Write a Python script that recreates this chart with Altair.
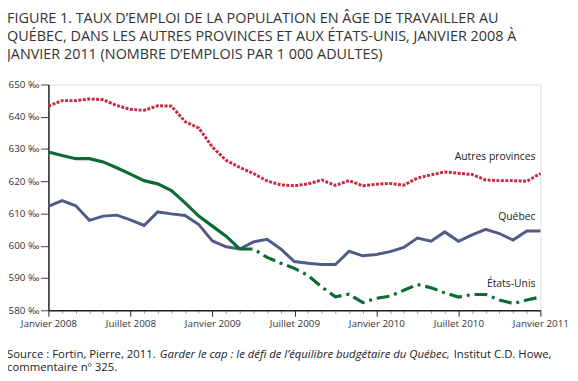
import altair as alt
import pandas as pd

months = list(range(37))
autres = [643.3, 645, 645, 645.5, 645.3, 643.5, 642.3, 642, 643.4, 643.3, 638.5, 636.5,
          630.6, 626.5, 624.3, 622.4, 620.1, 618.9, 618.6, 619.2, 620.4, 618.7, 620.2, 618.6,
          619.1, 619.3, 618.8, 621, 622, 622.9, 622.5, 622.1, 620.4, 620.2, 620.2, 620, 622.4]
quebec = [612.2, 614, 612.4, 607.9, 609.2, 609.5, 608, 606.3, 610.5, 609.9, 609.4, 606.6,
          601.5, 599.7, 599, 601.2, 602, 599, 595.1, 594.6, 594.2, 594.2, 598.3, 596.9,
          597.3, 598.2, 599.5, 602.4, 601.4, 604.3, 601.4, 603.4, 605.1, 603.8, 601.8, 604.6, 604.6]
etats_unis = [629.1, 628, 627, 627, 626, 624.2, 622.2, 620.2, 619.2, 617.1, 613.3, 609.2,
              606.1, 603, 599, 599, 596.4, 594.6, 593, 590.8, 587.2, 584.2, 585, 582.4,
              583.7, 584.4, 586.2, 588, 587, 585.4, 584.1, 584.9, 584.9, 583.2, 582.1, 583.2, 584.1]
us_solid_end = 14

tick_labels = ["Janvier 2008", "Juillet 2008", "Janvier 2009", "Juillet 2009",
               "Janvier 2010", "Juillet 2010", "Janvier 2011"]
y_ticks = [580, 590, 600, 610, 620, 630, 640, 650]

series_labels = ["Autres provinces", "Québec", "États-Unis"]
label_values = [627.5, 608.8, 588.0]

title_lines = ["FIGURE 1. TAUX D\u2019EMPLOI DE LA POPULATION EN ÂGE DE TRAVAILLER AU",
               "QUÉBEC, DANS LES AUTRES PROVINCES ET AUX ÉTATS-UNIS, JANVIER 2008 À",
               "JANVIER 2011 (NOMBRE D\u2019EMPLOIS PAR 1 000 ADULTES)"]

FONT = "Open Sans"
RED = "#c42b40"
BLUE = "#505c88"
GREEN = "#0b6b32"

df_a = pd.DataFrame({"m": months, "v": autres})
df_q = pd.DataFrame({"m": months, "v": quebec})
df_us1 = pd.DataFrame({"m": months[:us_solid_end + 1], "v": etats_unis[:us_solid_end + 1]})
df_us2 = pd.DataFrame({"m": months[us_solid_end:], "v": etats_unis[us_solid_end:]})
df_lab = pd.DataFrame({"m": [36] * 3, "v": label_values, "t": series_labels})

label_js = "[" + ",".join("'" + s + "'" for s in tick_labels) + "]"

x_enc = alt.X("m:Q", scale=alt.Scale(domain=[0, 36], nice=False, zero=False),
              axis=alt.Axis(values=months, title=None, grid=False,
                            labelExpr=f"datum.value % 6 === 0 ? {label_js}[datum.value/6] : ''",
                            tickSize={"condition": {"test": "datum.value % 6 === 0", "value": 6}, "value": 3},
                            tickColor={"condition": {"test": "datum.value % 6 === 0", "value": "#222"}, "value": "#999"},
                            labelFontSize=10, labelFont=FONT, labelColor="#333",
                            labelPadding=2, labelOverlap=False, labelFlush=False,
                            domainColor="#222", domainWidth=1.5))
y_enc = alt.Y("v:Q", scale=alt.Scale(domain=[580, 650], nice=False, zero=False),
              axis=alt.Axis(values=y_ticks, title=None, grid=False,
                            labelExpr="datum.value + ' \u2030'",
                            tickSize=8, tickColor="#444", labelFontSize=10, labelFont=FONT,
                            labelColor="#333", labelPadding=1.5,
                            domainColor="#222", domainWidth=1.5))

base = lambda d: alt.Chart(d).encode(x=x_enc, y=y_enc)

l_a = base(df_a).mark_line(color=RED, strokeWidth=3, strokeDash=[3, 1.5])
l_q = base(df_q).mark_line(color=BLUE, strokeWidth=3)
l_u1 = base(df_us1).mark_line(color=GREEN, strokeWidth=3.2)
l_u2 = base(df_us2).mark_line(color=GREEN, strokeWidth=3.2, strokeDash=[13, 5, 3, 5])
labs = base(df_lab).mark_text(align="right", baseline="middle", dx=-5, font=FONT,
                              fontSize=10.5, color="#222").encode(text="t:N")

layers = [l_a, l_q, l_u1, l_u2, labs]

for i, line in enumerate(title_lines):
    layers.append(alt.Chart(df_lab.head(1)).mark_text(
        align="left", baseline="alphabetic", font=FONT, fontSize=14.6, color="#333"
    ).encode(x=alt.value(-42), y=alt.value(-62.5 + i * 18.4), text=alt.value(line)))

src_y1 = 45
src_y2 = 59
SRC_FS = 11.5
src_parts = [("Source : Fortin, Pierre, 2011.", "normal", -42),
             ("Garder le cap : le défi de l\u2019équilibre budgétaire du Québec,", "italic", 113),
             ("Institut C.D. Howe,", "normal", 411)]
for txt, style, xx in src_parts:
    layers.append(alt.Chart(df_lab.head(1)).mark_text(
        align="left", baseline="middle", font=FONT, fontSize=SRC_FS, color="#222", fontStyle=style
    ).encode(x=alt.value(xx), y=alt.value(229 + src_y1), text=alt.value(txt)))
layers.append(alt.Chart(df_lab.head(1)).mark_text(
    align="left", baseline="middle", font=FONT, fontSize=SRC_FS, color="#222"
).encode(x=alt.value(-42), y=alt.value(229 + src_y2), text=alt.value("commentaire n\u00ba 325.")))

chart = alt.layer(*layers).properties(
    width=499, height=229,
    autosize=alt.AutoSizeParams(type="none"),
    padding={"left": 41, "top": 75, "right": 30, "bottom": 61},
).configure_view(stroke="#888", strokeWidth=1).configure(background="white")

chart.save("out.html", embed_options={"renderer": "svg", "actions": False})
